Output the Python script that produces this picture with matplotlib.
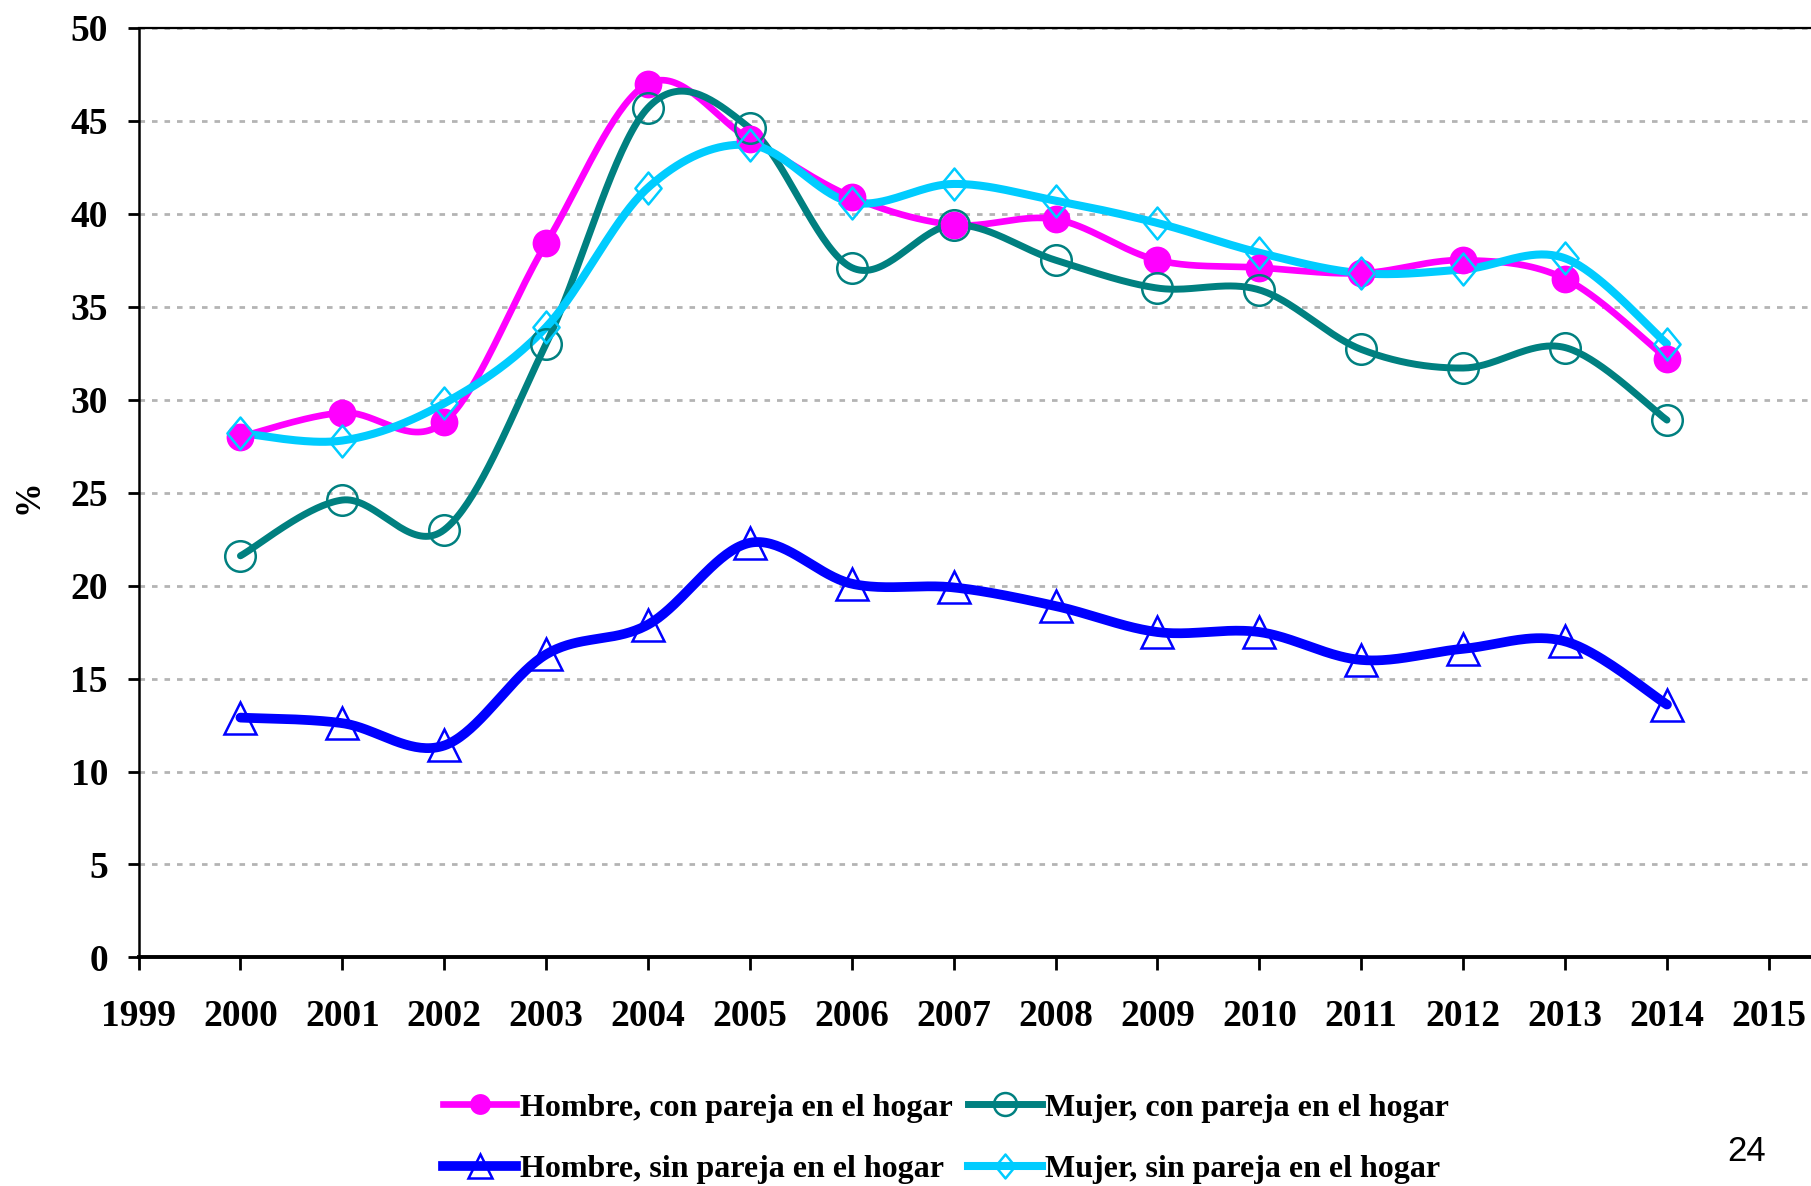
import numpy as np
import matplotlib
matplotlib.use("Agg")
import matplotlib.pyplot as plt
from matplotlib.path import Path

## data ##
years = [2000, 2001, 2002, 2003, 2004, 2005, 2006, 2007,
         2008, 2009, 2010, 2011, 2012, 2013, 2014]
hombre_con = [28.0, 29.3, 28.8, 38.4, 47.0, 44.0, 40.9, 39.4,
              39.7, 37.5, 37.1, 36.8, 37.5, 36.5, 32.2]
mujer_con = [21.6, 24.6, 23.0, 33.0, 45.7, 44.6, 37.1, 39.4,
             37.5, 36.0, 35.9, 32.7, 31.7, 32.8, 28.9]
hombre_sin = [12.9, 12.6, 11.4, 16.3, 17.9, 22.3, 20.1, 19.9,
              18.9, 17.5, 17.5, 16.0, 16.6, 17.0, 13.6]
mujer_sin = [28.2, 27.8, 29.8, 33.9, 41.4, 43.7, 40.6, 41.6,
             40.7, 39.5, 37.9, 36.8, 37.0, 37.6, 33.0]

labels = ['Hombre, con pareja en el hogar', 'Hombre, sin pareja en el hogar',
          'Mujer, con pareja en el hogar', 'Mujer, sin pareja en el hogar']
year_ticks = list(range(1999, 2016))
y_ticks = list(range(0, 51, 5))


def smooth(x, y, n=40):
    # excel style smoothed line (bezier with 1/6 control points)
    x = np.asarray(x, float)
    y = np.asarray(y, float)
    px = np.concatenate([[x[0]], x, [x[-1]]])
    py = np.concatenate([[y[0]], y, [y[-1]]])
    t = np.linspace(0, 1, n)
    xs, ys = [], []
    for i in range(len(x) - 1):
        p0 = np.array([px[i], py[i]])
        p1 = np.array([px[i + 1], py[i + 1]])
        p2 = np.array([px[i + 2], py[i + 2]])
        p3 = np.array([px[i + 3], py[i + 3]])
        c1 = p1 + (p2 - p0) / 6
        c2 = p2 - (p3 - p1) / 6
        b = ((1 - t) ** 3)[:, None] * p1 + (3 * (1 - t) ** 2 * t)[:, None] * c1 \
            + (3 * (1 - t) * t ** 2)[:, None] * c2 + (t ** 3)[:, None] * p2
        xs.append(b[:, 0])
        ys.append(b[:, 1])
    return np.concatenate(xs), np.concatenate(ys)


diamond = Path([(0, 1), (0.82, 0), (0, -1), (-0.82, 0), (0, 1)],
               [Path.MOVETO, Path.LINETO, Path.LINETO, Path.LINETO, Path.CLOSEPOLY])

plt.rcParams['font.family'] = ['Liberation Serif', 'DejaVu Serif']
plt.rcParams['font.weight'] = 'bold'

fig = plt.figure(figsize=(18.11, 11.86), dpi=100)
ax = fig.add_axes([0.0765, 0.1927, 0.9565, 0.7839])

series = [
    (hombre_con, '#FF00FF', 4.8, dict(marker='o', ms=20, mfc='#FF00FF', mec='#FF00FF', mew=0)),
    (hombre_sin, '#0000FF', 7, dict(marker='^', ms=23, mfc='none', mec='#0000FF', mew=1.8)),
    (mujer_con, '#008080', 5, dict(marker='o', ms=22, mfc='none', mec='#008080', mew=1.8)),
    (mujer_sin, '#00CCFF', 5.8, dict(marker=diamond, ms=23, mfc='none', mec='#00CCFF', mew=1.8)),
]

handles = []
for vals, col, lw, mk in series:
    sx, sy = smooth(years, vals)
    ax.plot(sx, sy, color=col, lw=lw, solid_capstyle='round', zorder=2)
for (vals, col, lw, mk), lab in zip(series, labels):
    ax.plot(years, vals, ls='none', zorder=3, **mk)
    handles.append(plt.Line2D([], [], color=col, lw=lw, label=lab, **mk))

ax.set_xlim(1999, 2016)
ax.set_ylim(0, 50)
ax.set_xticks(year_ticks)
ax.set_xticklabels([str(y) for y in year_ticks])
ax.set_yticks(y_ticks)
ax.grid(axis='y', color='#b4b4b4', lw=2, dashes=(2, 2.5))
ax.set_axisbelow(True)
ax.tick_params(axis='x', direction='out', length=9, width=2, pad=21, labelsize=27)
ax.tick_params(axis='y', direction='out', length=8, width=2, pad=14, labelsize=27)
ax.spines['left'].set_linewidth(1.8)
ax.spines['bottom'].set_linewidth(2.8)
ax.spines['top'].set_linewidth(1.6)
ax.spines['right'].set_visible(False)

fig.text(29 / 1811, 1 - 497 / 1186, '%', rotation=90, ha='center', va='center', fontsize=25)
fig.text(0.9642, 0.0287, '24', ha='center', va='center', fontsize=25,
         family='Liberation Sans', weight='normal')

fig.legend(handles=handles, ncol=2, loc='center', bbox_to_anchor=(0.5223, 0.040),
           frameon=False, fontsize=23, handlelength=2.3, handletextpad=0.1,
           columnspacing=0.5, labelspacing=1.0, markerscale=0.75)

fig.savefig('out.png', dpi=100)
